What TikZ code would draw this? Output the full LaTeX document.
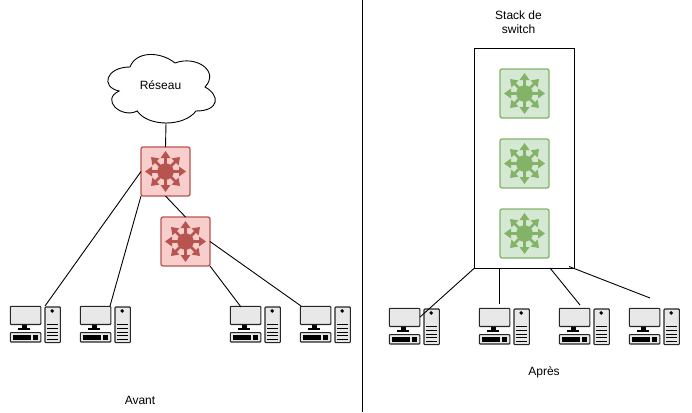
\documentclass[tikz,border=0pt]{standalone}
\usepackage{fontspec}
\setmainfont{Liberation Sans}
\usetikzlibrary{arrows.meta}
\definecolor{redfill}{HTML}{F8CECC}
\definecolor{redline}{HTML}{B85450}
\definecolor{greenfill}{HTML}{D5E8D4}
\definecolor{greenline}{HTML}{82B366}
\definecolor{pcgray}{HTML}{E8E8E8}
\tikzstyle{swbox}=[draw, rounded corners=2pt, minimum size=49pt, inner sep=0pt, outer sep=0pt, line width=1.3pt]
\tikzstyle{label}=[font=\fontsize{12}{14}\selectfont, align=center, inner sep=0pt]
\tikzstyle{pcpart}=[draw=black!85, fill=pcgray, line width=1.1pt, rounded corners=0.8pt]
\newcommand{\swnode}[4]{% name, position, fill, line
  \node[swbox, fill=#3, draw=#4] (#1) at (#2) {};
  \foreach \a in {0,45,...,315}
    \draw[#4, line width=2.6pt, -{Triangle[length=7pt,width=9.5pt]}] (#1.center) -- ++(\a:20.5);
  \fill[#4] (#1.center) circle (8.3);
}
\newcommand{\pcnode}[2]{% name, top left corner
  \begin{scope}[shift={(#2)}]
    \coordinate (#1) at (0,0);
    \fill[black] (12,18.5) rectangle (16.5,22);
    \fill[black] (8,21.5) rectangle (20,23.6);
    \draw[pcpart] (0,0.4) rectangle (30.5,18.5);
    \draw[pcpart] (0,26.6) rectangle (30.5,36);
    \fill[black] (2.5,28.6) rectangle (21,34);
    \fill[black] (23,28.6) rectangle (28,34);
    \draw[pcpart] (34.7,1) rectangle (50,36.6);
    \fill[black] (41.9,4.9) circle (1.9);
    \foreach \y in {18.3,22,26,29.7,33}
      \draw[black, line width=0.9pt] (37,\y) -- (47.5,\y);
  \end{scope}
}

\begin{document}
\begin{tikzpicture}[x=1pt, y=-1pt, line width=0.9pt]
\useasboundingbox (0,0) rectangle (692,412);

% cloud
\draw (130,67) .. controls (106,67) and (100,87) .. (119.2,91)
  .. controls (100,99.8) and (121.6,119) .. (137.2,111)
  .. controls (148,127) and (184,127) .. (196,111)
  .. controls (220,111) and (220,95) .. (205,87)
  .. controls (220,71) and (196,55) .. (175,63)
  .. controls (160,51) and (136,51) .. (130,67) -- cycle;
\node[label] (net) at (160.5,85.5) {Réseau};

% avant
\swnode{swa}{165.5,171.5}{redfill}{redline}
\swnode{swb}{185.5,241.5}{redfill}{redline}
\pcnode{pca}{10.3,306}
\pcnode{pcb}{80.3,306}
\pcnode{pcc}{230.3,306}
\pcnode{pcd}{300.3,306}
\node[label] (avant) at (140,400.5) {Avant};

% apres
\node[draw, minimum width=100.5pt, minimum height=219.5pt, inner sep=0pt, outer sep=0pt] (stack) at (524.5,158.5) {};
\swnode{swc}{524.5,93.5}{greenfill}{greenline}
\swnode{swd}{524.5,163.5}{greenfill}{greenline}
\swnode{swe}{524.5,233.5}{greenfill}{greenline}
\pcnode{pce}{389.3,308}
\pcnode{pcf}{479.3,308}
\pcnode{pcg}{559.3,308}
\pcnode{pch}{629.3,308}
\node[label] (titre) at (518.5,22.5) {Stack de\\switch};
\node[label] (apres) at (544,372.5) {Après};

% ends of the links
\coordinate (top) at (362.5,0);
\coordinate (bot) at (362.5,412);
\coordinate (cl) at (166,123);
\coordinate (ea) at (45,306);
\coordinate (eb) at (110,306);
\coordinate (ec) at (241,307);
\coordinate (ed) at (301,306);
\coordinate (ee) at (420,317);
\coordinate (ef) at (499.5,304);
\coordinate (eg) at (580,305);
\coordinate (eh) at (650,298);
\coordinate (sb) at (499.5,268);
\coordinate (sc) at (550,268);
\coordinate (sd) at (569,266.5);

\path
(top) edge (bot)
(cl) edge (swa.north)
(swa.west) edge (ea)
(swa.south west) edge (eb)
(swa.south) edge (swb.north)
(swb.south east) edge (ec)
(swb.east) edge (ed)
(stack.south west) edge (ee)
(sb) edge (ef)
(sc) edge (eg)
(sd) edge (eh)
;
\end{tikzpicture}
\end{document}
